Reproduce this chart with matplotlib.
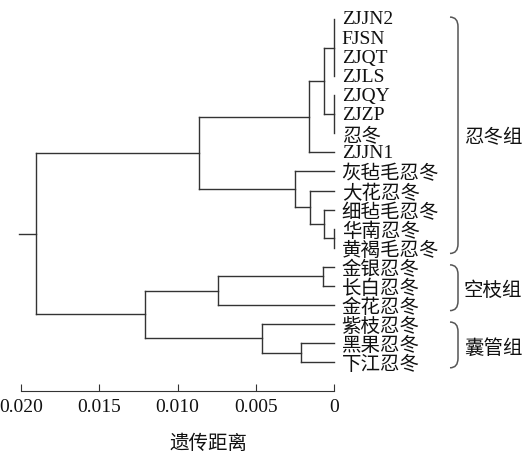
import matplotlib
matplotlib.use('Agg')
import matplotlib.pyplot as plt
import matplotlib.transforms as mtransforms
from matplotlib.path import Path
from matplotlib.patches import PathPatch

plt.rcParams['font.family'] = ['Liberation Serif', 'Noto Sans CJK SC']

# leaves from top to bottom
leaves = ['ZJJN2', 'FJSN', 'ZJQT', 'ZJLS', 'ZJQY', 'ZJZP', '忍冬', 'ZJJN1',
          '灰毡毛忍冬', '大花忍冬', '细毡毛忍冬', '华南忍冬', '黄褐毛忍冬',
          '金银忍冬', '长白忍冬', '金花忍冬', '紫枝忍冬', '黑果忍冬', '下江忍冬']

# internal nodes (children + genetic distance where they join)
node_names = ['P1', 'P2', 'Z1', 'ZJ', 'P3', 'C3', 'C2', 'CN', 'A',
              'K1', 'K', 'N1', 'N', 'B', 'root']
node_children = [
    ['ZJJN2', 'FJSN', 'ZJQT', 'ZJLS'],
    ['ZJQY', 'ZJZP', '忍冬'],
    ['P1', 'P2'],
    ['Z1', 'ZJJN1'],
    ['华南忍冬', '黄褐毛忍冬'],
    ['细毡毛忍冬', 'P3'],
    ['大花忍冬', 'C3'],
    ['灰毡毛忍冬', 'C2'],
    ['ZJ', 'CN'],
    ['金银忍冬', '长白忍冬'],
    ['K1', '金花忍冬'],
    ['黑果忍冬', '下江忍冬'],
    ['紫枝忍冬', 'N1'],
    ['K', 'N'],
    ['A', 'B'],
]
node_heights = [0.0, 0.0, 0.00066, 0.00161, 0.0, 0.00066, 0.00155, 0.00251, 0.00864,
                0.00074, 0.00744, 0.00214, 0.00460, 0.01210, 0.01906]
root_stub = 0.0201

groups = ['忍冬组', '空枝组', '囊管组']
group_first = ['ZJJN2', '金银忍冬', '紫枝忍冬']
group_last = ['黄褐毛忍冬', '金花忍冬', '下江忍冬']

xticks = [0.020, 0.015, 0.010, 0.005, 0]
xtick_labels = ['0.020', '0.015', '0.010', '0.005', '0']

W, H = 526, 452
fig = plt.figure(figsize=(W / 100, H / 100), dpi=100)

# pixel layout: distance 0 sits at x=334.3, 15667 px per unit
x_zero, px_per_unit = 334.3, 15667.0
left_px, right_px = 10, 340
top_px, bottom_px = 5, 391.7
leaf_y0, leaf_step = 20.0, 19.06

ax = fig.add_axes([left_px / W, (H - bottom_px) / H,
                   (right_px - left_px) / W, (bottom_px - top_px) / H])
ax.set_xlim((x_zero - left_px) / px_per_unit, (x_zero - right_px) / px_per_unit)
ax.set_ylim((bottom_px - leaf_y0) / leaf_step, (top_px - leaf_y0) / leaf_step)

line_kw = dict(color='#333333', lw=1.0, solid_capstyle='projecting')

# draw the tree
pos = {name: (0.0, i) for i, name in enumerate(leaves)}
for name, kids, h in zip(node_names, node_children, node_heights):
    ys = [pos[k][1] for k in kids]
    for k in kids:
        kh, ky = pos[k]
        if h > kh:
            ax.plot([kh, h], [ky, ky], **line_kw)
    ax.plot([h, h], [min(ys), max(ys)], **line_kw)
    pos[name] = (h, (min(ys) + max(ys)) / 2)
rh, ry = pos['root']
ax.plot([rh, root_stub], [ry, ry], **line_kw)

# leaf labels
for i, name in enumerate(leaves):
    cjk = any(ord(c) > 0x2E80 for c in name)
    ax.annotate(name, (0, i), xytext=(5.3, -1.5 if cjk else 0), textcoords='offset points',
                ha='left', va='center', fontsize=14, color='#111111', annotation_clip=False)

# group brackets
trans = mtransforms.blended_transform_factory(fig.dpi_scale_trans, ax.transData)
x0, x1 = 4.50, 4.58
for g, first, last in zip(groups, group_first, group_last):
    yt = leaves.index(first) - 0.1
    yb = leaves.index(last) + 0.3
    r = 0.5
    verts = [(x0, yt), (x1, yt), (x1, yt + r), (x1, yb - r), (x1, yb), (x0, yb)]
    codes = [Path.MOVETO, Path.CURVE3, Path.CURVE3, Path.LINETO, Path.CURVE3, Path.CURVE3]
    ax.add_patch(PathPatch(Path(verts, codes), transform=trans, fill=False,
                           edgecolor='#555555', lw=1.1, clip_on=False))
    ax.text(4.64, (yt + yb) / 2 + 0.12, g, transform=trans, ha='left', va='center',
            fontsize=14, color='#111111')

# axis
for s in ['top', 'right', 'left']:
    ax.spines[s].set_visible(False)
ax.spines['bottom'].set_bounds(0, 0.020)
ax.spines['bottom'].set_color('#333333')
ax.set_yticks([])
ax.set_xticks(xticks)
ax.set_xticklabels(xtick_labels, fontsize=14)
ax.tick_params(axis='x', direction='in', length=5, width=0.8, pad=5, colors='#333333',
               labelcolor='#111111')

fig.text(209 / W, (H - 444) / H, '遗传距离', ha='center', va='center', fontsize=14,
         color='#111111')

fig.savefig('out.png', dpi=100)
